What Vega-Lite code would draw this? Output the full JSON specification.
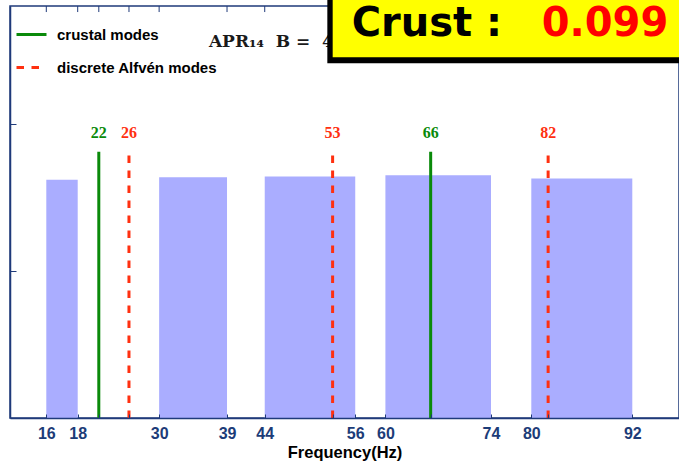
{
  "$schema": "https://vega.github.io/schema/vega-lite/v6.json",
  "width": 669,
  "height": 412,
  "autosize": {"type": "none"},
  "padding": {"left": 10, "top": 6, "right": 0, "bottom": 44},
  "background": "white",
  "config": {
    "view": {"stroke": "#1F3A7A", "strokeWidth": 1.5},
    "axis": {
      "domainColor": "#1F3A7A",
      "domainWidth": 1.5,
      "tickColor": "#1F3A7A",
      "tickWidth": 1,
      "grid": false
    }
  },
  "datasets": {
    "bands": [
      {"lo": 16, "hi": 18, "top": 1.62},
      {"lo": 30, "hi": 39, "top": 1.636},
      {"lo": 44, "hi": 56, "top": 1.642},
      {"lo": 60, "hi": 74, "top": 1.649},
      {"lo": 80, "hi": 92, "top": 1.627}
    ],
    "modes": [
      {"freq": 22, "type": "crustal modes"},
      {"freq": 66, "type": "crustal modes"},
      {"freq": 26, "type": "discrete Alfvén modes"},
      {"freq": 53, "type": "discrete Alfvén modes"},
      {"freq": 82, "type": "discrete Alfvén modes"}
    ],
    "model": [{"eos": "APR₁₄\u00a0\u00a0B\u00a0=\u00a0\u00a04", "crust": "0.099"}]
  },
  "layer": [
    {
      "data": {"name": "bands"},
      "mark": {"type": "rect", "color": "#AAADFF", "opacity": 1},
      "encoding": {
        "x": {
          "field": "lo",
          "type": "quantitative",
          "scale": {
            "domain": [11.2, 16, 18, 22, 74, 80, 92, 98],
            "range": [0, 36.3, 67.7, 88.8, 481, 521.3, 622.3, 669],
            "nice": false,
            "zero": false
          },
          "axis": {
            "orient": "bottom",
            "zindex": 1,
            "values": [16, 18, 22, 26, 30, 39, 44, 53, 56, 60, 66, 74, 80, 82, 92],
            "labelExpr": "indexof([22, 26, 53, 66, 82], datum.value) >= 0 ? '' : datum.label",
            "format": "d",
            "tickSize": -4,
            "labelPadding": 11,
            "labelOverlap": false,
            "labelFont": "Liberation Sans",
            "labelFontWeight": "bold",
            "labelFontSize": 16,
            "labelColor": "#1C3C78",
            "title": "Frequency(Hz)",
            "titleFont": "Liberation Sans",
            "titleFontWeight": "bold",
            "titleFontSize": 16.5,
            "titleColor": "black",
            "titlePadding": 3
          }
        },
        "x2": {"field": "hi"},
        "y": {
          "field": "top",
          "type": "quantitative",
          "scale": {"domain": [0, 2.8], "nice": false, "zero": false},
          "axis": {
            "values": [1, 2],
            "labels": false,
            "tickSize": -6,
            "title": null
          }
        },
        "y2": {"datum": 0}
      }
    },
    {
      "data": {"name": "bands"},
      "transform": [{"fold": ["lo", "hi"], "as": ["edge", "edgeFreq"]}],
      "mark": {"type": "rule", "color": "#1F3A7A", "strokeWidth": 1},
      "encoding": {
        "x": {"field": "edgeFreq", "type": "quantitative"},
        "y": {"datum": 2.8, "type": "quantitative"},
        "y2": {"datum": 2.759}
      }
    },
    {
      "data": {"name": "modes"},
      "mark": {"type": "rule", "color": "#1F3A7A", "strokeWidth": 1},
      "encoding": {
        "x": {"field": "freq", "type": "quantitative"},
        "y": {"datum": 2.8, "type": "quantitative"},
        "y2": {"datum": 2.759}
      }
    },
    {
      "data": {"name": "modes"},
      "mark": {"type": "rule", "strokeWidth": 3},
      "encoding": {
        "x": {"field": "freq", "type": "quantitative"},
        "y": {"datum": 0, "type": "quantitative"},
        "y2": {"datum": 1.81},
        "color": {
          "field": "type",
          "type": "nominal",
          "scale": {
            "domain": ["crustal modes", "discrete Alfvén modes"],
            "range": ["#0A8A0A", "#FF3010"]
          },
          "legend": {
            "title": null,
            "orient": "none",
            "legendX": 5,
            "legendY": 12,
            "padding": 0,
            "symbolType": "stroke",
            "symbolSize": 900,
            "symbolStrokeWidth": 3,
            "labelFont": "Liberation Sans",
            "labelFontWeight": "bold",
            "labelFontSize": 15,
            "labelColor": "black",
            "labelLimit": 400,
            "labelOffset": 9,
            "rowPadding": 8
          }
        },
        "strokeDash": {
          "field": "type",
          "type": "nominal",
          "scale": {
            "domain": ["crustal modes", "discrete Alfvén modes"],
            "range": [[1, 0], [7.5, 7.5]]
          },
          "legend": {
            "title": null,
            "orient": "none",
            "legendX": 5,
            "legendY": 12,
            "padding": 0,
            "symbolType": "stroke",
            "symbolSize": 900,
            "symbolStrokeWidth": 3,
            "labelFont": "Liberation Sans",
            "labelFontWeight": "bold",
            "labelFontSize": 15,
            "labelColor": "black",
            "labelLimit": 400,
            "labelOffset": 9,
            "rowPadding": 8
          }
        }
      }
    },
    {
      "data": {"name": "modes"},
      "mark": {
        "type": "text",
        "font": "Liberation Serif",
        "fontWeight": "bold",
        "fontSize": 16,
        "baseline": "middle",
        "align": "center"
      },
      "encoding": {
        "x": {"field": "freq", "type": "quantitative"},
        "y": {"datum": 1.94, "type": "quantitative"},
        "text": {"field": "freq", "type": "quantitative", "format": "d"},
        "color": {
          "condition": {"test": "datum.type === 'crustal modes'", "value": "#0A8A0A"},
          "value": "#FF3010"
        }
      }
    },
    {
      "data": {"name": "model"},
      "mark": {
        "type": "text",
        "font": "DejaVu Serif",
        "fontWeight": "bold",
        "fontSize": 17,
        "align": "left",
        "baseline": "alphabetic",
        "color": "#1A1A1A"
      },
      "encoding": {
        "x": {"datum": 36.6, "type": "quantitative"},
        "y": {"datum": 2.521, "type": "quantitative"},
        "text": {"field": "eos", "type": "nominal"}
      }
    },
    {
      "data": {"name": "model"},
      "mark": {"type": "rect", "color": "black"},
      "encoding": {
        "x": {"datum": 52.3, "type": "quantitative"},
        "x2": {"datum": 110},
        "y": {"datum": 2.4106, "type": "quantitative"},
        "y2": {"datum": 3.2}
      }
    },
    {
      "data": {"name": "model"},
      "mark": {"type": "rect", "fill": "#FFFF00", "stroke": "black", "strokeWidth": 3},
      "encoding": {
        "x": {"datum": 52.81, "type": "quantitative"},
        "x2": {"datum": 110},
        "y": {"datum": 2.4412, "type": "quantitative"},
        "y2": {"datum": 3.2}
      }
    },
    {
      "data": {"name": "model"},
      "mark": {
        "type": "text",
        "font": "DejaVu Sans",
        "fontWeight": "bold",
        "fontSize": 40,
        "align": "left",
        "baseline": "alphabetic",
        "color": "black",
        "text": "Crust :"
      },
      "encoding": {
        "x": {"datum": 55.53, "type": "quantitative"},
        "y": {"datum": 2.593, "type": "quantitative"}
      }
    },
    {
      "data": {"name": "model"},
      "mark": {
        "type": "text",
        "font": "DejaVu Sans",
        "fontWeight": "bold",
        "fontSize": 40,
        "align": "left",
        "baseline": "alphabetic",
        "color": "#FF0000"
      },
      "encoding": {
        "x": {"datum": 81.24, "type": "quantitative"},
        "y": {"datum": 2.593, "type": "quantitative"},
        "text": {"field": "crust", "type": "nominal"}
      }
    }
  ]
}
